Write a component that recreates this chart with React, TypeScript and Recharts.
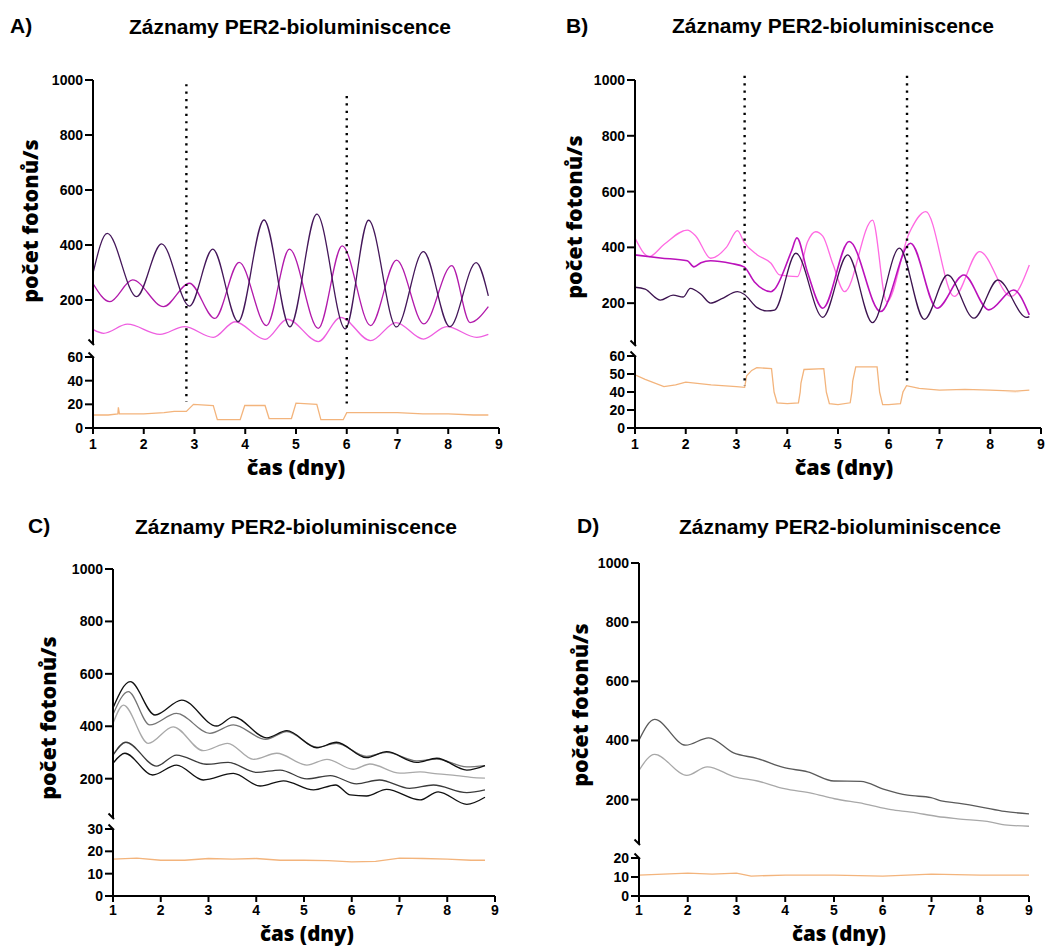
import React from 'react';
import { LineChart, Line, XAxis, YAxis, ReferenceLine, ReferenceDot } from 'recharts';

type P = [number, number];

// ---------- shared axis values ----------
const dayTicks = [1, 2, 3, 4, 5, 6, 7, 8, 9];
const upperTicks = [200, 400, 600, 800, 1000];
const lowerTicksA = [0, 20, 40, 60];
const lowerTicksBTop = [40, 50, 60];
const lowerTicksBBottom = [0, 20];
const lowerTicksC = [0, 10, 20, 30];
const lowerTicksD = [0, 10, 20];

const panelTitle = 'Záznamy PER2-bioluminiscence';
const yTitle = 'počet fotonů/s';
const xTitle = 'čas (dny)';

// ---------- Panel A ----------
const aDark: P[] = [[1.0, 297], [1.28, 442], [1.86, 212], [2.35, 404], [2.9, 178], [3.36, 385], [3.86, 121], [4.37, 491], [4.88, 102], [5.41, 512], [5.97, 95], [6.43, 490], [6.98, 102], [7.51, 376], [8.03, 103], [8.55, 336], [8.79, 215]];
const aMagenta: P[] = [[1.0, 260], [1.33, 194], [1.78, 273], [2.39, 176], [2.9, 261], [3.4, 133], [3.88, 337], [4.42, 107], [4.87, 385], [5.44, 97], [5.91, 397], [6.47, 107], [6.98, 345], [7.52, 113], [8.07, 325], [8.43, 118], [8.79, 176]];
const aPink: P[] = [[1.0, 93], [1.21, 79], [1.68, 112], [2.32, 75], [2.8, 103], [3.37, 64], [3.8, 121], [4.39, 57], [4.83, 130], [5.44, 49], [5.88, 137], [6.47, 52], [6.97, 118], [7.51, 58], [7.97, 103], [8.56, 64], [8.79, 75]];
const aBase: P[] = [[1.0, 11], [1.3, 11], [1.49, 12], [1.5, 17.5], [1.52, 12], [2.0, 12], [2.4, 13], [2.6, 14], [2.84, 14], [2.91, 17], [2.98, 20], [3.37, 19], [3.45, 7], [3.9, 7], [3.99, 19], [4.39, 19], [4.47, 8], [4.91, 8], [5.0, 21], [5.41, 20], [5.49, 7], [5.93, 7], [6.0, 13], [6.5, 13], [7.0, 13], [7.5, 12], [8.0, 12], [8.5, 11], [8.79, 11]];
const aGuideX = [2.84, 6.0];
const aGuideTop = [985, 942];
const aGuideBottom = [22, 17];

// ---------- Panel B ----------
const bPink: P[] = [[1.0, 433], [1.28, 367], [1.57, 410], [2.03, 462], [2.2, 440], [2.49, 361], [2.8, 400], [3.02, 460], [3.15, 418], [3.41, 373], [3.68, 343], [3.85, 301], [4.2, 295], [4.4, 420], [4.56, 456], [4.7, 440], [4.9, 340], [5.13, 241], [5.68, 498], [5.96, 205], [6.4, 450], [6.73, 528], [7.29, 224], [7.79, 385], [8.41, 224], [8.77, 337]];
const bMagenta: P[] = [[1.0, 373], [1.5, 362], [2.03, 352], [2.16, 330], [2.3, 345], [2.49, 352], [2.9, 342], [3.15, 330], [3.35, 277], [3.68, 241], [3.75, 250], [4.08, 385], [4.19, 434], [4.4, 310], [4.7, 182], [5.22, 421], [5.84, 170], [6.43, 415], [6.95, 182], [7.48, 301], [7.97, 176], [8.46, 247], [8.77, 158]];
const bDark: P[] = [[1.0, 257], [1.2, 250], [1.5, 211], [1.75, 229], [1.95, 222], [2.09, 253], [2.3, 232], [2.49, 200], [2.7, 215], [3.02, 241], [3.15, 232], [3.4, 185], [3.6, 172], [3.75, 175], [4.17, 379], [4.7, 149], [5.19, 373], [5.68, 130], [6.21, 397], [6.7, 142], [7.16, 301], [7.68, 146], [8.15, 283], [8.72, 149], [8.77, 152]];
const bBase: P[] = [[1.0, 49.5], [1.2, 47], [1.57, 43], [1.8, 44], [2.0, 45.5], [2.5, 44], [3.0, 43], [3.16, 42.6], [3.2, 49], [3.3, 52], [3.4, 53.5], [3.69, 53], [3.74, 40], [3.8, 28], [4.0, 27], [4.22, 28], [4.27, 45], [4.33, 52.5], [4.72, 53], [4.77, 40], [4.83, 27], [5.0, 26], [5.24, 28], [5.29, 46], [5.35, 54], [5.77, 54], [5.82, 40], [5.88, 26], [6.0, 26], [6.23, 27], [6.28, 40], [6.35, 43.5], [6.6, 42], [7.0, 41], [7.5, 41.5], [8.0, 41], [8.5, 40.5], [8.77, 41]];
const bGuideX = [3.16, 6.36];
const bGuideTop = [1015, 1015];
const bGuideBottom = [43.5, 44.5];

// ---------- Panel C ----------
const cLine1: P[] = [[1.0, 470], [1.36, 570], [1.88, 443], [2.44, 500], [3.17, 401], [3.52, 436], [4.22, 356], [4.64, 383], [5.27, 318], [5.68, 339], [6.31, 280], [6.73, 303], [7.36, 262], [7.78, 278], [8.41, 233], [8.79, 250]];
const cLine2: P[] = [[1.0, 445], [1.32, 532], [1.77, 405], [2.33, 449], [3.03, 373], [3.52, 405], [4.2, 350], [4.64, 380], [5.27, 320], [5.68, 335], [6.31, 285], [6.73, 300], [7.36, 268], [7.78, 275], [8.41, 245], [8.79, 250]];
const cLine3: P[] = [[1.0, 410], [1.22, 481], [1.74, 335], [2.26, 398], [2.89, 307], [3.4, 335], [3.94, 274], [4.43, 297], [5.06, 252], [5.48, 274], [6.03, 236], [6.38, 256], [7.01, 221], [7.43, 226], [7.8, 218], [8.2, 212], [8.5, 205], [8.79, 202]];
const cLine4: P[] = [[1.0, 290], [1.27, 339], [1.91, 248], [2.33, 290], [2.96, 255], [3.41, 262], [4.01, 224], [4.5, 233], [5.06, 199], [5.55, 212], [6.1, 180], [6.58, 195], [7.21, 163], [7.71, 176], [8.41, 147], [8.79, 157]];
const cLine5: P[] = [[1.0, 259], [1.25, 297], [1.83, 214], [2.33, 252], [2.89, 195], [3.52, 220], [4.08, 172], [4.57, 192], [5.2, 157], [5.66, 176], [5.97, 138], [6.31, 134], [6.73, 159], [7.43, 119], [7.81, 150], [8.41, 102], [8.79, 129]];
const cBase: P[] = [[1.0, 16.5], [1.5, 17], [2.0, 16], [2.5, 16], [3.0, 16.8], [3.5, 16.5], [4.0, 16.8], [4.5, 16], [5.0, 16], [5.5, 15.8], [6.0, 15.3], [6.5, 15.5], [7.0, 17], [7.5, 16.8], [8.0, 16.5], [8.5, 16], [8.79, 16]];

// ---------- Panel D ----------
const dLine1: P[] = [[1.0, 401], [1.32, 471], [1.96, 384], [2.43, 409], [2.94, 358], [3.43, 339], [3.98, 308], [4.46, 294], [5.0, 263], [5.55, 262], [6.03, 235], [6.51, 215], [6.99, 207], [7.2, 196], [7.54, 188], [8.02, 175], [8.5, 160], [9.0, 152]];
const dLine2: P[] = [[1.0, 299], [1.32, 353], [1.98, 282], [2.4, 311], [2.96, 277], [3.43, 263], [3.98, 237], [4.53, 222], [5.01, 203], [5.62, 186], [6.17, 166], [6.58, 158], [7.12, 143], [7.54, 135], [8.22, 124], [8.5, 115], [9.0, 110]];
const dBase: P[] = [[1.0, 11], [1.5, 11.5], [2.0, 12], [2.5, 11.5], [3.0, 12], [3.3, 10.5], [4.0, 11], [5.0, 11], [6.0, 10.5], [7.0, 11.5], [8.0, 11], [9.0, 11]];

// ---------- colours ----------
const ORANGE = '#f3b47c';

type SeriesDef = { data: P[]; color: string; curve?: 'monotone' | 'linear'; w?: number };
type Guide = { x: number; from: number; to: number };

const rows = (pts: P[]) => pts.map(([x, y]) => ({ x, y }));

const tickFont = { fontSize: 14, fontWeight: 700, fill: '#000', fontFamily: '"Liberation Sans", Arial, sans-serif' };
const axisStroke = { stroke: '#000', strokeWidth: 2 };

const breakMark = (p: any) => (
  <path d={`M${p.cx - 4.5},${p.cy - 4.5}L${p.cx + 1},${p.cy + 1}`} stroke="#000" strokeWidth={2} fill="none" />
);

function Strip(props: {
  px: number; py: number; pw: number; ph: number;
  domain: [number, number]; ticks: number[];
  series: SeriesDef[]; showX?: boolean; guides?: Guide[];
  breakTop?: boolean; breakBottom?: boolean; xGap?: number;
}) {
  const { px, py, pw, ph, domain, ticks, series, showX, guides = [], breakTop, breakBottom, xGap = 5 } = props;
  const YW = 60, MT = 10, MR = 14, XH = 30, MB = 16;
  const width = YW + pw + MR;
  const height = MT + ph + (showX ? XH : MB);
  return (
    <div style={{ position: 'absolute', left: px - YW, top: py - MT }}>
      <LineChart width={width} height={height} margin={{ top: MT, right: MR, bottom: showX ? 0 : MB, left: 0 }}>
        <XAxis
          type="number" dataKey="x" domain={[1, 9]} ticks={dayTicks} interval={0}
          allowDataOverflow hide={!showX} height={XH}
          tick={tickFont} tickLine={axisStroke} axisLine={axisStroke} tickSize={6} tickMargin={xGap}
        />
        <YAxis
          type="number" domain={domain} ticks={ticks} interval={0} allowDataOverflow width={YW}
          tick={tickFont} tickLine={axisStroke} axisLine={axisStroke} tickSize={8} tickMargin={2}
        />
        {series.map((s, i) => (
          <Line
            key={i} data={rows(s.data)} dataKey="y" type={s.curve ?? 'monotone'}
            stroke={s.color} strokeWidth={s.w ?? 1.3} dot={false} activeDot={false}
            isAnimationActive={false}
          />
        ))}
        {guides.map((g, i) => (
          <ReferenceLine
            key={'g' + i}
            segment={[{ x: g.x, y: g.from }, { x: g.x, y: g.to }]}
            stroke="#000" strokeWidth={2.4} strokeDasharray="2.2 5.2" ifOverflow="visible"
          />
        ))}
        {breakBottom && <ReferenceDot x={1} y={domain[0]} r={0} ifOverflow="visible" shape={breakMark} />}
        {breakTop && <ReferenceDot x={1} y={domain[1]} r={0} ifOverflow="visible" shape={breakMark} />}
      </LineChart>
    </div>
  );
}

const titleFont = { fontFamily: '"Liberation Sans", Arial, sans-serif', fontWeight: 700, fontSize: 21 };
const labelFont = { fontFamily: '"Open Sans", "DejaVu Sans", sans-serif', fontWeight: 800, fontSize: 21.5 };
const xLabelFontLow = { ...labelFont, fontSize: 20.5 };

function Texts() {
  const panels = [
    { tag: 'A)', tx: 10, ty: 33, cx: 290, cy: 34, yx: 29, yy: 221, xx: 296, xy: 475, low: false },
    { tag: 'B)', tx: 566, ty: 33, cx: 833, cy: 33, yx: 573, yy: 217, xx: 844, xy: 475, low: false },
    { tag: 'C)', tx: 28, ty: 533, cx: 296, cy: 534, yx: 47, yy: 718, xx: 307, xy: 940.5, low: true },
    { tag: 'D)', tx: 577, ty: 533, cx: 840, cy: 534, yx: 579, yy: 705, xx: 839, xy: 940.5, low: true },
  ];
  return (
    <svg width={1048} height={946} style={{ position: 'absolute', left: 0, top: 0, pointerEvents: 'none' }}>
      {panels.map((p) => (
        <g key={p.tag}>
          <text x={p.tx} y={p.ty} {...titleFont} fill="#000">{p.tag}</text>
          <text x={p.cx} y={p.cy} {...titleFont} fill="#000" textAnchor="middle">{panelTitle}</text>
          <text
            x={p.yx} y={p.yy} {...labelFont} fill="#000" textAnchor="middle" dominantBaseline="central"
            transform={`rotate(-90 ${p.yx} ${p.yy})`}
          >{yTitle}</text>
          <text x={p.xx} y={p.xy} {...(p.low ? xLabelFontLow : labelFont)} fill="#000" textAnchor="middle">{xTitle}</text>
        </g>
      ))}
    </svg>
  );
}

export default function App() {
  return (
    <div style={{ position: 'absolute', left: 0, top: 0, width: 1048, height: 946, background: '#fff', overflow: 'hidden' }}>
      {/* Panel A */}
      <Strip
        px={93} py={80} pw={406} ph={264} domain={[40, 1000]} ticks={upperTicks} breakBottom
        series={[
          { data: aPink, color: '#ee5ee0' },
          { data: aMagenta, color: '#b21aab' },
          { data: aDark, color: '#44175a' },
        ]}
        guides={aGuideX.map((x, i) => ({ x, from: aGuideTop[i], to: 0 }))}
      />
      <Strip
        px={93} py={357} pw={406} ph={71} domain={[0, 60]} ticks={lowerTicksA} showX breakTop
        series={[{ data: aBase, color: ORANGE, curve: 'linear' }]}
        guides={aGuideX.map((x, i) => ({ x, from: 60, to: aGuideBottom[i] }))}
      />
      {/* Panel B */}
      <Strip
        px={635} py={80} pw={406} ph={265} domain={[50, 1000]} ticks={upperTicks} breakBottom
        series={[
          { data: bPink, color: '#ff6ae2' },
          { data: bMagenta, color: '#bb12bb', w: 1.6 },
          { data: bDark, color: '#3d1450' },
        ]}
        guides={bGuideX.map((x, i) => ({ x, from: bGuideTop[i], to: 10 }))}
      />
      <Strip
        px={635} py={356} pw={406} ph={36} domain={[40, 60]} ticks={lowerTicksBTop} breakTop
        series={[{ data: bBase, color: ORANGE, curve: 'linear' }]}
        guides={bGuideX.map((x, i) => ({ x, from: 60, to: bGuideBottom[i] }))}
      />
      <Strip
        px={635} py={392} pw={406} ph={36} domain={[0, 40]} ticks={lowerTicksBBottom} showX
        series={[{ data: bBase, color: ORANGE, curve: 'linear' }]}
      />
      {/* Panel C */}
      <Strip
        px={113} py={569} pw={382} ph={249} domain={[50, 1000]} ticks={upperTicks} breakBottom
        series={[
          { data: cLine3, color: '#a9a9a9' },
          { data: cLine2, color: '#747474' },
          { data: cLine4, color: '#3c3c3c' },
          { data: cLine1, color: '#111111' },
          { data: cLine5, color: '#111111' },
        ]}
      />
      <Strip
        px={113} py={829} pw={382} ph={67} domain={[0, 30]} ticks={lowerTicksC} showX breakTop xGap={3}
        series={[{ data: cBase, color: ORANGE, curve: 'linear' }]}
      />
      {/* Panel D */}
      <Strip
        px={639} py={563} pw={390} ph={281} domain={[50, 1000]} ticks={upperTicks} breakBottom
        series={[
          { data: dLine2, color: '#a8a8a8' },
          { data: dLine1, color: '#5a5a5a' },
        ]}
      />
      <Strip
        px={639} py={858} pw={390} ph={38} domain={[0, 20]} ticks={lowerTicksD} showX breakTop xGap={3}
        series={[{ data: dBase, color: ORANGE, curve: 'linear' }]}
      />
      <Texts />
    </div>
  );
}
